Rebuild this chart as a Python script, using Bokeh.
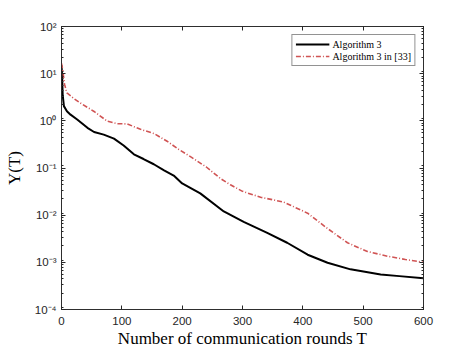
from bokeh.plotting import figure
from bokeh.models import LinearAxis, LogAxis, FixedTicker, LogTicker, CustomJSTickFormatter, Range1d, Legend, LegendItem
from bokeh.embed import file_html
from bokeh.resources import INLINE

# Data
t_alg3 = [0, 1, 2, 4, 9, 15, 26, 43, 54, 70, 87, 103, 120, 136, 153, 170, 186, 200, 230,
          269, 302, 341, 374, 408, 441, 479, 529, 560, 600]
y_alg3 = [15.0, 9.0, 3.5, 2.05, 1.6, 1.35, 1.07, 0.71, 0.58, 0.51, 0.42, 0.30, 0.195,
          0.155, 0.12, 0.089, 0.069, 0.047, 0.029, 0.012, 0.0072, 0.0042, 0.0026,
          0.00145, 0.00098, 0.00071, 0.00055, 0.00051, 0.00046]
t_ref33 = [0, 2, 5, 9, 20, 31, 54, 76, 92, 109, 131, 153, 175, 194, 215, 240, 264, 280,
           300, 330, 368, 408, 441, 474, 507, 540, 570, 600]
y_ref33 = [16.6, 12.0, 6.0, 3.9, 3.0, 2.4, 1.58, 0.98, 0.87, 0.86, 0.66, 0.54, 0.37, 0.25,
           0.17, 0.105, 0.059, 0.044, 0.032, 0.024, 0.019, 0.011, 0.0052, 0.0026, 0.0017,
           0.00135, 0.00115, 0.00100]
x_ticks = [0, 100, 200, 300, 400, 500, 600]
y_range = (1e-4, 1e2)
labels = ["Algorithm 3", "Algorithm 3 in [33]"]

AXC = "#262626"
p = figure(width=459, height=350, y_axis_type="log", output_backend="svg",
           toolbar_location=None, x_range=Range1d(0, 600), y_range=Range1d(*y_range),
           min_border_left=61, min_border_right=36, min_border_top=26, min_border_bottom=36)
p.grid.visible = False
p.outline_line_color = AXC
p.outline_line_width = 0.8

r1 = p.line(t_alg3, y_alg3, line_color="black", line_width=2)
r2 = p.line(t_ref33, y_ref33, line_color="#D05454", line_width=1.6, line_dash="5 2 1 2")

fmt = CustomJSTickFormatter(code="""
const sup = {'-':'\u207b','0':'\u2070','1':'\u00b9','2':'\u00b2','3':'\u00b3','4':'\u2074'};
const e = Math.round(Math.log10(tick));
return '10' + String(e).split('').map(c => sup[c]).join('');
""")

def style(ax, labels_on=True):
    ax.axis_line_color = AXC
    ax.axis_line_width = 0.8
    ax.major_tick_line_color = AXC
    ax.minor_tick_line_color = AXC
    ax.major_tick_in = 4
    ax.major_tick_out = 0
    ax.minor_tick_in = 2
    ax.minor_tick_out = 0
    ax.major_label_text_font = "Liberation Sans"
    ax.major_label_text_font_size = "11.5px"
    ax.major_label_text_color = AXC if labels_on else None

xa = p.xaxis[0]
xa.ticker = FixedTicker(ticks=x_ticks)
style(xa)
xa.major_label_standoff = 7
xa.axis_label = "Number of communication rounds T"
xa.axis_label_text_font = "Liberation Serif"
xa.axis_label_text_font_size = "17px"
xa.axis_label_text_font_style = "normal"
xa.axis_label_standoff = 1
xa.axis_label_text_color = "black"

ya = p.yaxis[0]
ya.ticker = LogTicker(num_minor_ticks=9, desired_num_ticks=7)
ya.formatter = fmt
style(ya)
ya.major_label_standoff = 5
ya.axis_label = "\u03a5(T)"
ya.axis_label_text_font = "Liberation Serif"
ya.axis_label_text_font_size = "17px"
ya.axis_label_text_font_style = "normal"
ya.axis_label_standoff = 8
ya.axis_label_text_color = "black"

top = LinearAxis(ticker=FixedTicker(ticks=x_ticks))
style(top, False)
top.major_label_text_font_size = "0px"
p.add_layout(top, "above")
right = LogAxis(ticker=LogTicker(num_minor_ticks=9, desired_num_ticks=7))
style(right, False)
right.major_label_text_font_size = "0px"
p.add_layout(right, "right")

leg = Legend(items=[LegendItem(label=labels[0], renderers=[r1]),
                    LegendItem(label=labels[1], renderers=[r2])],
             location="top_right")
leg.label_text_font = "Liberation Serif"
leg.label_text_font_size = "10px"
leg.label_text_color = "black"
leg.glyph_width = 34
leg.glyph_height = 12
leg.label_height = 12
leg.spacing = 0
leg.padding = 3
leg.margin = 8
leg.label_standoff = 3
leg.border_line_color = AXC
leg.border_line_width = 0.8
p.add_layout(leg, "center")

open("out.html", "w").write(file_html(p, INLINE))
